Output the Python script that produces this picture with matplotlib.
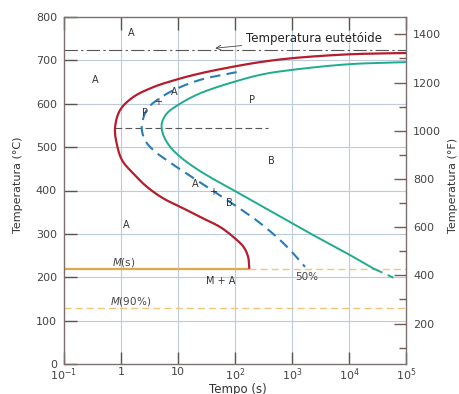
import matplotlib
matplotlib.use("Agg")
import matplotlib.pyplot as plt
import numpy as np

# ---------------- data ----------------
# start of transformation (red), log10(t [s]) and temperature [°C]
start_logt = [5.0, 4.0, 3.0, 2.44, 1.91, 1.39, 0.98, 0.56, 0.21, -0.018, -0.105,
              -0.075, 0.018, 0.216, 0.45, 0.74, 1.09, 1.386, 1.737, 1.97, 2.15, 2.23, 2.25]
start_T = [717, 714, 705, 696, 684, 670, 656, 638, 615, 585, 544,
           508, 470, 439, 409, 382, 359, 339, 316, 293, 270, 247, 222]

# 50 % transformation (blue dashed)
half_logt = [2.03, 1.386, 0.918, 0.626, 0.474, 0.391, 0.363, 0.421, 0.567, 0.80,
             1.035, 1.351, 1.684, 2.088, 2.439, 2.789, 3.0, 3.228]
half_T = [673, 655, 631, 608, 590, 567, 544, 516, 493, 470,
          449, 422, 393, 358, 325, 286, 258, 224]

# end of transformation (green), solid part and dashed continuation
end_logt = [5.0, 3.98, 2.995, 2.49, 1.97, 1.386, 1.035, 0.80, 0.714, 0.742, 0.86, 1.035,
            1.268, 1.56, 1.97, 2.44, 3.02, 3.43, 4.02, 4.43]
end_T = [696, 691, 678, 668, 650, 624, 600, 577, 553, 528, 501, 478,
         455, 431, 401, 366, 323, 293, 251, 220]
end_dash_logt = [4.43, 4.78]
end_dash_T = [220, 199]

eutectoid_T = 723
nose_T = 543
nose_line_t = [0.8, 380]
ms_T = 220
ms_end_t = 178
m90_T = 128

region_labels = [
    ("A", 1.5, 763), ("A", 0.36, 654), ("P", 200, 608), ("B", 430, 468),
    ("A", 1.22, 320), ("M + A", 56, 191), ("P", 2.65, 578), ("+", 4.5, 605),
    ("A", 8.5, 627), ("A", 20, 416), ("+", 42, 396), ("B", 81, 372),
]

xticks = [0.1, 1, 10, 100, 1000, 1e4, 1e5]
xticklabels = ["10$^{-1}$", "1", "10", "10$^{2}$", "10$^{3}$", "10$^{4}$", "10$^{5}$"]
yticks_C = list(range(0, 801, 100))
yticks_F_major = list(range(200, 1401, 200))
yticks_F_minor = list(range(100, 1401, 100))


def smooth_path(logt, T, n=20):
    """Centripetal Catmull-Rom rendering through the read points (in log-time space,
    T scaled so both axes are comparable on screen)."""
    x = np.asarray(logt, float)
    y = np.asarray(T, float) / 130.0  # ~ 57 px per decade vs 0.434 px per °C
    P = np.column_stack([x, y])
    P = np.vstack([2 * P[0] - P[1], P, 2 * P[-1] - P[-2]])
    out = []
    for i in range(1, len(P) - 2):
        p0, p1, p2, p3 = P[i - 1], P[i], P[i + 1], P[i + 2]
        def tj(ti, a, b):
            return ti + max(np.linalg.norm(b - a), 1e-9) ** 0.5
        t0 = 0.0
        t1 = tj(t0, p0, p1)
        t2 = tj(t1, p1, p2)
        t3 = tj(t2, p2, p3)
        ts = np.linspace(t1, t2, n, endpoint=(i == len(P) - 3))
        for t in ts:
            A1 = (t1 - t) / (t1 - t0) * p0 + (t - t0) / (t1 - t0) * p1
            A2 = (t2 - t) / (t2 - t1) * p1 + (t - t1) / (t2 - t1) * p2
            A3 = (t3 - t) / (t3 - t2) * p2 + (t - t2) / (t3 - t2) * p3
            B1 = (t2 - t) / (t2 - t0) * A1 + (t - t0) / (t2 - t0) * A2
            B2 = (t3 - t) / (t3 - t1) * A2 + (t - t1) / (t3 - t1) * A3
            C = (t2 - t) / (t2 - t1) * B1 + (t - t1) / (t2 - t1) * B2
            out.append(C)
    out = np.array(out)
    return 10 ** out[:, 0], out[:, 1] * 130.0


# ---------------- figure ----------------
plt.rcParams['font.family'] = ['DejaVu Sans']
fig = plt.figure(figsize=(4.59, 3.94), dpi=100)
ax = fig.add_axes([64/459, 1-364/394, (406-64)/459, (364-17)/394])
ax.set_xscale('log')
ax.set_xlim(0.1, 1e5)
ax.set_ylim(0, 800)

grid_c = '#bccadb'
for t in xticks[1:-1]:
    ax.axvline(t, color=grid_c, lw=0.8, zorder=0)
for T in yticks_C[1:-1]:
    ax.axhline(T, color=grid_c, lw=0.8, zorder=0)

red = '#b41e2c'
blue = '#2a7cb8'
green = '#1eac8c'
orange = '#e0a848'
lorange = '#f2c57c'

ax.plot(*smooth_path(start_logt, start_T), color=red, lw=1.6, zorder=3)
ax.plot(*smooth_path(half_logt, half_T), color=blue, lw=1.5, ls=(0, (5, 3)), zorder=3)
ax.plot(*smooth_path(end_logt, end_T), color=green, lw=1.4, zorder=3)
ax.plot(10 ** np.asarray(end_dash_logt), end_dash_T, color=green, lw=1.4,
        ls=(0, (5, 3)), zorder=3)

ax.plot([0.1, 1e5], [eutectoid_T]*2, color='#555555', lw=0.8, ls=(0, (12, 3, 2, 3)), zorder=2)
ax.plot(nose_line_t, [nose_T]*2, color='#555555', lw=0.8, ls=(0, (6, 3)), zorder=2)
ax.plot([0.1, ms_end_t], [ms_T]*2, color=orange, lw=1.6, zorder=2)
ax.plot([ms_end_t, 1e5], [ms_T]*2, color=lorange, lw=1.0, ls=(0, (5, 3)), zorder=2)
ax.plot([0.1, 1e5], [m90_T]*2, color=lorange, lw=1.0, ls=(0, (5, 3)), zorder=2)

lab_c = '#333333'
for s, t, T in region_labels:
    ax.text(t, T, s, fontsize=7, color=lab_c, ha='center', va='center')
ax.text(1.1, 235, "$\\it{M}$(s)", fontsize=7.5, color='#444444', ha='center', va='center')
ax.text(1.45, 143, "$\\it{M}$(90%)", fontsize=7.5, color='#444444', ha='center', va='center')
ax.text(1800, 200, "50%", fontsize=7.5, color='#444444', ha='center', va='center')
ax.annotate("Temperatura eutetóide", xy=(45, 728), xytext=(155, 751),
            fontsize=8.5, color='#222222', ha='left', va='center',
            arrowprops=dict(arrowstyle='->', color='#444444', lw=0.6,
                            shrinkA=1, shrinkB=0))

spine_c = '#7d6f6f'
for sp in ax.spines.values():
    sp.set_color(spine_c)
    sp.set_linewidth(1.0)

ax.set_xticks(xticks)
ax.set_xticklabels(xticklabels)
ax.xaxis.set_minor_locator(matplotlib.ticker.NullLocator())
ax.set_yticks(yticks_C)
ax.tick_params(axis='both', which='major', direction='in', length=9, width=1.0,
               color='#555555', labelsize=8, labelcolor='#444444', top=True)
ax.tick_params(axis='x', pad=2)
ax.tick_params(axis='y', pad=5)

axr = ax.twinx()
axr.set_ylim(0*1.8 + 32, 800*1.8 + 32)
axr.set_yticks(yticks_F_major)
axr.set_yticks([v for v in yticks_F_minor if v not in yticks_F_major], minor=True)
axr.tick_params(axis='y', which='major', direction='in', length=9, width=1.0,
                color='#7a5a50', labelsize=8, labelcolor='#444444', pad=5)
axr.tick_params(axis='y', which='minor', direction='in', length=5, width=1.0,
                color='#7a5a50')
for sp in axr.spines.values():
    sp.set_visible(False)

fig.text(18/459, 1-185/394, "Temperatura (°C)", rotation=90, fontsize=8,
         color='#333333', ha='center', va='center')
fig.text(453/459, 1-185/394, "Temperatura (°F)", rotation=90, fontsize=8,
         color='#333333', ha='center', va='center')
fig.text(238/459, 1-389/394, "Tempo (s)", fontsize=8.5, color='#333333',
         ha='center', va='center')

fig.savefig("out.png", dpi=100)
